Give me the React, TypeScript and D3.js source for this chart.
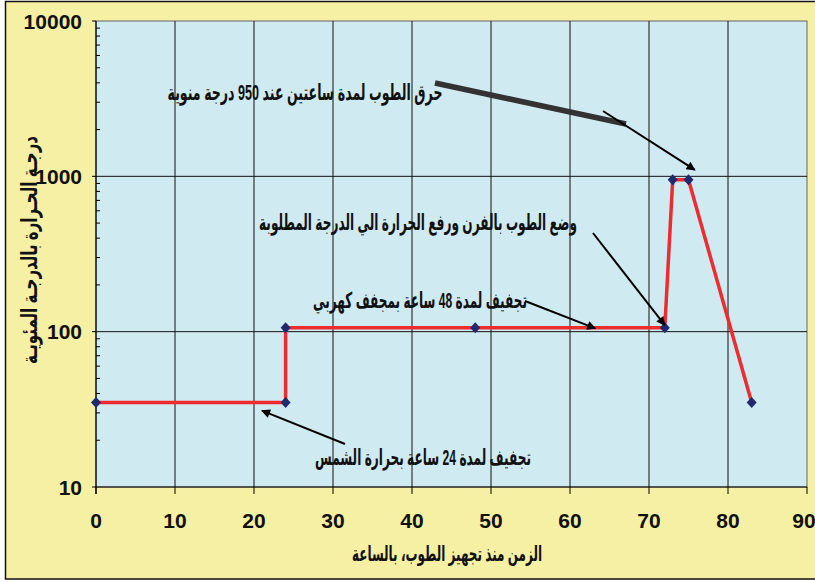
import React from "react";
import * as d3 from "d3";

// Firing schedule of bricks: hours since preparation vs temperature (°C)
const hours = [0, 24, 24, 48, 72, 73, 75, 83];
const temps = [35, 35, 106, 106, 106, 950, 950, 35];

const xTicks = [0, 10, 20, 30, 40, 50, 60, 70, 80, 90];
const yTicks = [10, 100, 1000, 10000];

const xTitle = "الزمن منذ تجهيز الطوب، بالساعة";
const yTitle = "درجـة الحـرارة بالدرجـة المئويـة";

const notes = [
  { text: "حرق الطوب لمدة ساعتين عند 950 درجة منوية", cx: 305, y: 100, w: 275 },
  { text: "وضع الطوب بالفرن ورفع الحرارة الي  الدرجة المطلوبة", cx: 418, y: 230, w: 318 },
  { text: "تجفيف لمدة 48 ساعة بمجفف كهربي", cx: 420, y: 308, w: 214 },
  { text: "تجفيف لمدة 24 ساعة بحرارة الشمس", cx: 423, y: 465, w: 216 },
];

const W = 815;
const H = 582;
const plot = { l: 96, r: 807, t: 21, b: 487 };

const YELLOW = "#F5F0A3";
const BLUE = "#CFEAF1";
const RED = "#EE2B2E";
const NAVY = "#1F2A6E";
const NUM_FONT = "'Liberation Sans Narrow', 'Arial Narrow', Arial, sans-serif";
const AR_FONT = "Arial, 'DejaVu Sans', sans-serif";

export default function App() {
  const x = d3.scaleLinear().domain([0, 90]).range([plot.l, plot.r]);
  const y = d3.scaleLog().domain([10, 10000]).range([plot.b, plot.t]);

  const pts: [number, number][] = hours.map((h, i) => [h, temps[i]]);
  const line = d3
    .line<[number, number]>()
    .x((d) => x(d[0]))
    .y((d) => y(d[1]));

  // minor log ticks 2..9 of each decade
  const minor: number[] = [];
  for (let dec = 10; dec < 10000; dec *= 10) {
    for (let k = 2; k <= 9; k++) minor.push(dec * k);
  }

  const diamond = "M0,-5.5L5,0L0,5.5L-5,0Z";

  // annotation arrows, anchored to the data where they point
  const arrows = [
    { x1: 603, y1: 111, x2: x(75.8), y2: y(1100) },
    { x1: 593, y1: 233, x2: x(72), y2: y(110) },
    { x1: 525, y1: 301, x2: x(63.2), y2: y(105) },
    { x1: 345, y1: 444, x2: x(21), y2: y(31) },
  ];

  return (
    <svg
      width={W}
      height={H}
      style={{ position: "absolute", left: 0, top: 0, display: "block" }}
    >
      <defs>
        <marker
          id="head"
          viewBox="0 0 10 10"
          refX="9"
          refY="5"
          markerWidth="11"
          markerHeight="9"
          markerUnits="userSpaceOnUse"
          orient="auto"
        >
          <path d="M0,0 L10,5 L0,10 z" fill="#000" />
        </marker>
      </defs>
      <rect x={0} y={0} width={W} height={H} fill="#fff" />
      <rect x={5.5} y={1.5} width={W} height={577.5} fill={YELLOW} stroke="#111" strokeWidth={1.5} />
      <rect
        x={plot.l}
        y={plot.t}
        width={plot.r - plot.l}
        height={plot.b - plot.t}
        fill={BLUE}
        stroke="#666"
        strokeWidth={1}
      />
      {/* vertical grid */}
      {xTicks.slice(1, -1).map((t) => (
        <line key={"gx" + t} x1={x(t)} x2={x(t)} y1={plot.t} y2={plot.b} stroke="#111" strokeWidth={1} />
      ))}
      {/* horizontal grid */}
      {yTicks.slice(1, -1).map((t) => (
        <line key={"gy" + t} x1={plot.l} x2={plot.r} y1={y(t)} y2={y(t)} stroke="#111" strokeWidth={1} />
      ))}
      {/* axes */}
      <line x1={plot.l} x2={plot.l} y1={plot.t} y2={plot.b + 7} stroke="#000" strokeWidth={1.2} />
      <line x1={plot.l} x2={plot.r} y1={plot.b} y2={plot.b} stroke="#000" strokeWidth={1.2} />
      {xTicks.map((t) => (
        <line key={"tx" + t} x1={x(t)} x2={x(t)} y1={plot.b} y2={plot.b + 7} stroke="#000" strokeWidth={1} />
      ))}
      {minor.map((t) => (
        <line key={"my" + t} x1={plot.l} x2={plot.l + 4} y1={y(t)} y2={y(t)} stroke="#000" strokeWidth={1} />
      ))}
      {yTicks.map((t) => (
        <line key={"ty" + t} x1={plot.l - 4} x2={plot.l} y1={y(t)} y2={y(t)} stroke="#000" strokeWidth={1} />
      ))}
      {/* tick labels */}
      {xTicks.map((t) => (
        <text
          key={"lx" + t}
          x={Math.min(x(t), W - 11)}
          y={528}
          textAnchor="middle"
          fontFamily={NUM_FONT}
          fontWeight="bold"
          fontSize={21}
          fill="#111"
        >
          {t}
        </text>
      ))}
      {yTicks.map((t) => (
        <text
          key={"ly" + t}
          x={82}
          y={y(t) + 7.5}
          textAnchor="end"
          fontFamily={NUM_FONT}
          fontWeight="bold"
          fontSize={21}
          fill="#111"
        >
          {t}
        </text>
      ))}
      {/* data line */}
      <path d={line(pts) || ""} fill="none" stroke={RED} strokeWidth={3.5} strokeLinejoin="round" />
      {pts.map((p, i) => (
        <path key={"m" + i} d={diamond} transform={`translate(${x(p[0])},${y(p[1])})`} fill={NAVY} />
      ))}
      {/* annotations */}
      <line x1={435} y1={83} x2={626} y2={124} stroke="#333" strokeWidth={5.5} />
      {arrows.map((a, i) => (
        <line
          key={"a" + i}
          x1={a.x1}
          y1={a.y1}
          x2={a.x2}
          y2={a.y2}
          stroke="#000"
          strokeWidth={2}
          markerEnd="url(#head)"
        />
      ))}
      {notes.map((n, i) => (
        <text
          key={"n" + i}
          x={n.cx}
          y={n.y}
          textAnchor="middle"
          direction="rtl"
          fontFamily={AR_FONT}
          fontWeight="bold"
          fontSize={22}
          fill="#111"
          textLength={n.w}
          lengthAdjust="spacingAndGlyphs"
        >
          {n.text}
        </text>
      ))}
      <text
        x={447}
        y={561}
        textAnchor="middle"
        direction="rtl"
        fontFamily={AR_FONT}
        fontWeight="bold"
        fontSize={21}
        fill="#111"
        textLength={190}
        lengthAdjust="spacingAndGlyphs"
      >
        {xTitle}
      </text>
      <text
        transform="translate(37,250) rotate(-90)"
        textAnchor="middle"
        direction="rtl"
        fontFamily={AR_FONT}
        fontWeight="bold"
        fontSize={22}
        fill="#111"
        textLength={228}
        lengthAdjust="spacingAndGlyphs"
      >
        {yTitle}
      </text>
    </svg>
  );
}
